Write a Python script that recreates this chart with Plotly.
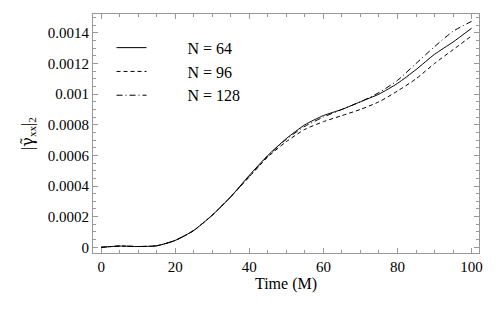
import plotly.graph_objects as go

t = [0, 5, 10, 15, 20, 25, 30, 35, 40, 45, 50, 55, 60, 65, 70, 75, 80, 85, 90, 95, 100]
n64 = [0, 0.000008, 0.000005, 0.00001, 0.000045, 0.00011, 0.00021, 0.00033, 0.00047, 0.0006, 0.00071,
       0.0008, 0.00086, 0.0009, 0.00095, 0.001, 0.00107, 0.00116, 0.00126, 0.00134, 0.00143]
n96 = [0, 0.000008, 0.000005, 0.00001, 0.000045, 0.00011, 0.00021, 0.00033, 0.00046, 0.00059, 0.00069,
       0.00077, 0.00082, 0.00086, 0.0009, 0.00095, 0.00102, 0.0011, 0.0012, 0.00129, 0.00138]
n128 = [0, 0.000008, 0.000005, 0.00001, 0.000045, 0.00011, 0.00021, 0.00033, 0.000465, 0.000595, 0.000705,
        0.00079, 0.00085, 0.0009, 0.00095, 0.00101, 0.00109, 0.0012, 0.00131, 0.00141, 0.001475]
names = ["N = 64", "N = 96", "N = 128"]
dashes = ["solid", "4px,3px", "6px,3px,1px,3px"]
xticks = [0, 20, 40, 60, 80, 100]
yticks = [0, 0.0002, 0.0004, 0.0006, 0.0008, 0.001, 0.0012, 0.0014]
ylabels = ["0", "0.0002", "0.0004", "0.0006", "0.0008", "0.001", "0.0012", "0.0014"]

font = "Liberation Serif, Times New Roman, serif"
fig = go.Figure()
for name, ys, d in zip(names, [n64, n96, n128], dashes):
    fig.add_trace(go.Scatter(x=t, y=ys, mode="lines", name="\u00a0" * 9 + name,
                             line=dict(color="black", width=1, dash=d, shape="spline", smoothing=0.6)))

axis_common = dict(showline=True, linecolor="#999999", linewidth=1, mirror="ticks",
                   ticks="inside", tickcolor="#999999", ticklen=5, showgrid=False, zeroline=False,
                   tickfont=dict(family=font, size=15, color="black"))
fig.update_xaxes(range=[-2.2, 102], tickvals=xticks, ticktext=[str(v) for v in xticks],
                 minor=dict(dtick=5, ticks="inside", ticklen=3, tickcolor="#999999"),
                 title=dict(text="Time (M)", font=dict(family=font, size=16, color="black"), standoff=2),
                 automargin=False, **axis_common)
fig.update_yaxes(range=[-0.0000373, 0.001523], tickvals=yticks, ticktext=ylabels,
                 minor=dict(dtick=0.00005, tick0=0, ticks="inside", ticklen=3, tickcolor="#999999"),
                 title=dict(text="|<span style=\"font-family:DejaVu Serif\">\u03b3\u0303</span><sub>xx</sub>|<sub>2</sub>",
                            font=dict(family=font, size=16, color="black"), standoff=10),
                 automargin=False, **axis_common)
fig.update_layout(width=500, height=309, margin=dict(l=93, r=21, t=14, b=56),
                  plot_bgcolor="white", paper_bgcolor="white",
                  font=dict(family=font, size=15, color="black"),
                  legend=dict(x=0.048, y=0.93, xanchor="left", yanchor="top", bgcolor="rgba(0,0,0,0)",
                              font=dict(family=font, size=16), tracegroupgap=0, itemwidth=30))
fig.write_html("out.html", post_script="document.body.style.margin='0';",
               config={"displayModeBar": False})
